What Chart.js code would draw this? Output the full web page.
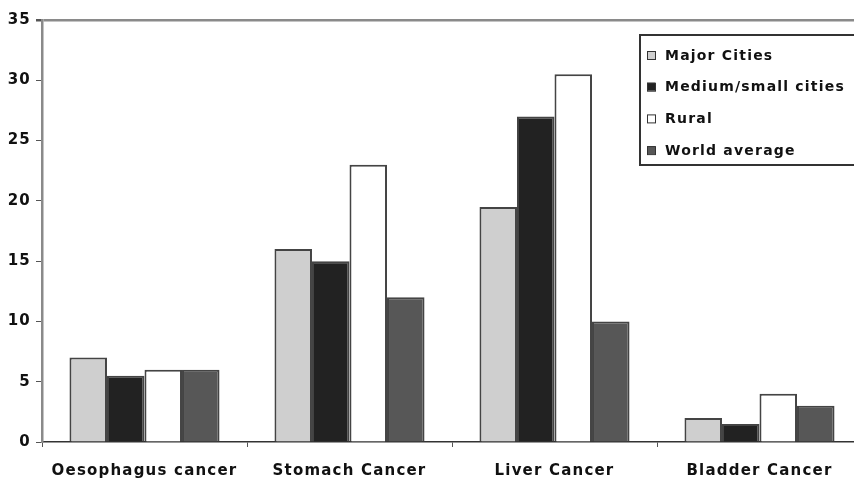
<!DOCTYPE html>
<html>
<head>
<meta charset="utf-8">
<script src="https://cdn.jsdelivr.net/npm/chart.js@4/dist/chart.umd.min.js"></script>
<style>
  html, body { margin: 0; padding: 0; background: #fff; overflow: hidden; }
  #wrap { width: 854px; height: 481px; overflow: hidden; position: relative; }
  canvas { display: block; }
</style>
</head>
<body>
<div id="wrap"><canvas id="c" width="880" height="481"></canvas></div>
<script>
// Cancer incidence by area type, with world average
const categories = ['Oesophagus cancer', 'Stomach Cancer', 'Liver Cancer', 'Bladder Cancer'];
const seriesNames = ['Major Cities', 'Medium/small cities', 'Rural', 'World average'];
const majorCities = [7, 16, 19.5, 2];
const mediumSmallCities = [5.5, 15, 27, 1.5];
const rural = [6, 23, 30.5, 4];
const worldAverage = [6, 12, 10, 3];
const yTickValues = [0, 5, 10, 15, 20, 25, 30, 35];

const fills = ['#cfcfcf', '#222222', '#ffffff', '#575757'];
const FONT = 'DejaVu Sans';

// Wider glyph spacing for every text drawn on the canvas
const spacing = {
  id: 'spacing',
  beforeLayout(chart) { chart.ctx.letterSpacing = '1.2px'; },
  beforeDraw(chart) { chart.ctx.letterSpacing = '1.2px'; }
};

// Boxed legend in the upper right of the plot
const boxLegend = {
  id: 'boxLegend',
  afterDraw(chart) {
    const ctx = chart.ctx;
    ctx.save();
    const x0 = 640, y0 = 35, y1 = 165;
    ctx.fillStyle = '#fff';
    ctx.fillRect(x0, y0, chart.width - x0 + 20, y1 - y0);
    ctx.strokeStyle = '#333';
    ctx.lineWidth = 2;
    ctx.strokeRect(x0, y0, chart.width - x0 + 20, y1 - y0);
    ctx.font = 'bold 14px "' + FONT + '"';
    ctx.textBaseline = 'middle';
    ctx.letterSpacing = '1.2px';
    chart.data.datasets.forEach((ds, i) => {
      const cy = 55 + i * 31.7;
      ctx.fillStyle = ds.backgroundColor;
      ctx.fillRect(647, cy - 4, 8, 8);
      ctx.strokeStyle = '#333';
      ctx.lineWidth = 1;
      ctx.strokeRect(647.5, cy - 3.5, 8, 8);
      ctx.fillStyle = '#111';
      ctx.fillText(ds.label, 665, cy + 1);
    });
    ctx.restore();
  }
};

const seriesValues = [majorCities, mediumSmallCities, rural, worldAverage];

new Chart(document.getElementById('c'), {
  type: 'bar',
  data: {
    labels: categories,
    datasets: seriesNames.map((name, i) => ({
      label: name,
      data: seriesValues[i],
      backgroundColor: fills[i],
      borderColor: '#444',
      borderWidth: 2,
      barPercentage: 1.0,
      categoryPercentage: 0.732
    }))
  },
  options: {
    responsive: false,
    animation: false,
    devicePixelRatio: 1,
    layout: { padding: { top: 20, right: 18, left: 0, bottom: 0 } },
    plugins: { legend: { display: false }, tooltip: { enabled: false } },
    scales: {
      x: {
        grid: { drawOnChartArea: false, drawTicks: true, tickLength: 5, tickColor: '#555', lineWidth: 1 },
        border: { color: '#333', width: 1.5 },
        ticks: {
          color: '#111',
          font: { family: FONT, size: 15, weight: 'bold' },
          padding: 15,
          maxRotation: 0,
          autoSkip: false
        },
        afterFit(scale) { scale.height = 39; }
      },
      y: {
        min: 0,
        max: 35,
        afterBuildTicks(scale) { scale.ticks = yTickValues.map(v => ({ value: v })); },
        grid: {
          drawOnChartArea: true,
          tickLength: 6,
          tickColor: '#555',
          color: c => (c.tick && c.tick.value === 35 ? '#8a8a8a' : 'rgba(0,0,0,0)'),
          lineWidth: c => (c.tick && c.tick.value === 35 ? 2.5 : 1)
        },
        border: { color: '#8a8a8a', width: 2.5 },
        ticks: {
          color: '#111',
          font: { family: FONT, size: 15, weight: 'bold' },
          padding: 5
        },
        afterFit(scale) { scale.width = 42; }
      }
    }
  },
  plugins: [spacing, boxLegend]
});
</script>
</body>
</html>
